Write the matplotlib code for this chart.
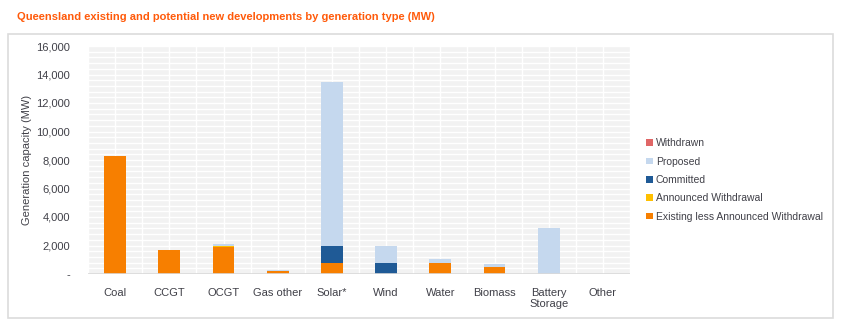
#
# imports
import numpy as np
import matplotlib
matplotlib.use("Agg")
import matplotlib.pyplot as plt
from matplotlib.patches import Rectangle
#
# Queensland generation capacity by type (MW), stacked bars
#################################################################
categories=['Coal','CCGT','OCGT','Gas other','Solar*','Wind','Water','Biomass','Battery\nStorage','Other']
existing=[8300,1690,1900,200,800,0,800,470,0,20]
announced=[0,0,100,0,0,0,0,0,0,0]
committed=[0,0,0,0,1170,780,0,50,0,0]
proposed=[0,0,100,100,11530,1180,270,180,3200,0]
withdrawn=[0,0,0,0,0,0,0,0,0,0]
yticks=[0,2000,4000,6000,8000,10000,12000,14000,16000]
ytick_labels=['-','2,000','4,000','6,000','8,000','10,000','12,000','14,000','16,000']
#
series=[('Existing less Announced Withdrawal',existing,'#f77f00'),
        ('Announced Withdrawal',announced,'#ffc000'),
        ('Committed',committed,'#1f5a96'),
        ('Proposed',proposed,'#c5d8ee'),
        ('Withdrawn',withdrawn,'#e06666')]
txt_col='#404048'
plt.rcParams['font.family']=['Liberation Sans','DejaVu Sans']
#
fig=plt.figure(figsize=(8.48,3.26),dpi=100)
# outer frame
fig.patches.append(Rectangle((8/848,1-318/326),825/848,284/326,transform=fig.transFigure,
                             facecolor='none',edgecolor='#dcdcdc',lw=1.2,zorder=-10))
fig.text(17/848,1-17/326,'Queensland existing and potential new developments by generation type (MW)',
         color='#ff5a0a',fontsize=8,fontweight='bold',va='center',ha='left')
#
ax=fig.add_axes([88/848,1-274/326,542/848,228/326])
ax.set_facecolor('#f2f2f2')
x=np.arange(len(categories))
bottom=np.zeros(len(categories))
handles=[]
for name,vals,col in series:
    vals=np.array(vals,dtype=float)
    h=ax.bar(x,vals,0.4,bottom=bottom,color=col,label=name,zorder=3)
    handles.append(h)
    bottom=bottom+vals
#
ax.set_xlim(-0.5,len(categories)-0.5)
ax.set_ylim(0,16000)
ax.set_yticks(yticks)
ax.set_yticklabels(ytick_labels)
ax.set_yticks(np.arange(0,16001,400),minor=True)
ax.set_xticks(x)
ax.set_xticklabels(categories)
ax.set_xticks(np.arange(-0.5,len(categories),0.5),minor=True)
ax.grid(which='both',color='white',lw=1.0,zorder=1)
ax.tick_params(which='both',length=0,labelsize=8,colors=txt_col)
ax.tick_params(axis='y',pad=13)
ax.tick_params(axis='x',pad=10)
for s in ax.spines.values():
    s.set_visible(False)
ax.axhline(0,color='#d9d9d9',lw=1.2,zorder=4)
ax.set_ylabel('Generation capacity (MW)',fontsize=8,color=txt_col,labelpad=3)
#
leg=fig.legend(handles[::-1],[s[0] for s in series][::-1],loc='upper left',
               bbox_to_anchor=(637/848,1-129/326),frameon=False,fontsize=7.5,
               handlelength=0.6,handleheight=0.6,handletextpad=0.3,labelspacing=0.8)
for t in leg.get_texts():
    t.set_color(txt_col)
#
plt.savefig('out.png',dpi=100)
